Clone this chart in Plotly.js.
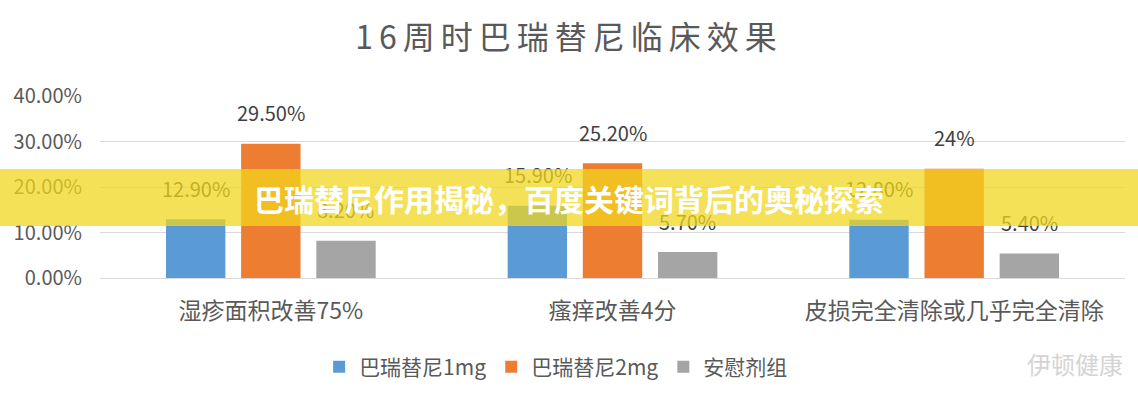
<!DOCTYPE html>
<html>
<head>
<meta charset="utf-8">
<script src="https://cdn.plot.ly/plotly-3.0.1.min.js"></script>
<style>
  html, body { margin: 0; padding: 0; background: #fff; }
  #graph { width: 1138px; height: 400px; }
  .gtitle { letter-spacing: 6px; }
</style>
</head>
<body>
<div id="graph"></div>
<script>
var categories = ['湿疹面积改善75%', '瘙痒改善4分', '皮损完全清除或几乎完全清除'];
var series_names = ['巴瑞替尼1mg', '巴瑞替尼2mg', '安慰剂组'];
var dose1mg = [12.9, 15.9, 12.8];
var dose2mg = [29.5, 25.2, 24];
var placebo = [8.2, 5.7, 5.4];
var labels1mg = ['12.90%', '15.90%', '12.80%'];
var labels2mg = ['29.50%', '25.20%', '24%'];
var labelsPlacebo = ['8.20%', '5.70%', '5.40%'];
var colors = ['#5b9bd5', '#ed7d31', '#a5a5a5'];

var font_family = '"Noto Sans CJK SC", "Noto Sans", sans-serif';

var all_values = [dose1mg, dose2mg, placebo];
var all_labels = [labels1mg, labels2mg, labelsPlacebo];

var plot_data = [];
for (var i = 0; i < 3; i++) {
    plot_data.push({
        type: 'bar',
        name: series_names[i],
        x: categories,
        y: all_values[i],
        marker: { color: colors[i] },
        hoverinfo: 'name+y'
    })
}

// data labels sit well above the bar tops, so they go in as annotations
var label_notes = [];
var bar_shift = [-75, 0, 75];
for (var i = 0; i < 3; i++) {
    for (var j = 0; j < categories.length; j++) {
        label_notes.push({
            text: all_labels[i][j],
            x: categories[j],
            y: all_values[i][j],
            xref: 'x',
            yref: 'y',
            xshift: bar_shift[i],
            yshift: 31,
            xanchor: 'center',
            yanchor: 'middle',
            showarrow: false,
            font: { size: 20, color: '#404040', family: font_family }
        })
    }
}

// the yellow banner goes last so it covers the labels behind it
var banner = {
    text: '<b>巴瑞替尼作用揭秘，百度关键词背后的奥秘探索</b>',
    xref: 'paper',
    yref: 'paper',
    x: 0.4576,
    y: 0.441,
    xanchor: 'center',
    yanchor: 'middle',
    width: 1140,
    height: 57,
    borderpad: 0,
    borderwidth: 0,
    bgcolor: 'rgba(241, 214, 28, 0.74)',
    showarrow: false,
    font: { size: 30, color: '#ffffff', family: font_family }
};

var watermark = {
    text: '伊顿健康',
    xref: 'paper',
    yref: 'paper',
    x: 1.0,
    y: -0.47,
    xanchor: 'right',
    yanchor: 'middle',
    showarrow: false,
    font: { size: 24, color: '#d4d4d4', family: font_family }
};

var layout = {
    width: 1138,
    height: 400,
    paper_bgcolor: '#ffffff',
    plot_bgcolor: '#ffffff',
    font: { family: font_family, color: '#595959' },
    margin: { l: 100, r: 13, t: 96, b: 117 },
    barmode: 'group',
    bargap: 0.34,
    bargroupgap: 0.21,
    title: {
        text: '16周时巴瑞替尼临床效果',
        font: { size: 32, color: '#595959', family: font_family },
        x: 0.5,
        xanchor: 'center',
        y: 0.905,
        yanchor: 'middle'
    },
    xaxis: {
        type: 'category',
        showgrid: false,
        showline: true,
        linecolor: '#d9d9d9',
        ticks: '',
        ticklabelstandoff: 12,
        tickfont: { size: 23, color: '#595959' }
    },
    yaxis: {
        range: [0, 40],
        dtick: 10,
        tickformat: '.2f',
        ticksuffix: '%',
        showgrid: true,
        gridcolor: '#d9d9d9',
        zeroline: false,
        ticks: '',
        ticklabelstandoff: 17,
        tickfont: { size: 20, color: '#595959' }
    },
    showlegend: true,
    legend: {
        orientation: 'h',
        x: 0.445,
        xanchor: 'center',
        y: -0.49,
        yanchor: 'middle',
        font: { size: 21, color: '#595959' },
        itemwidth: 30,
        tracegroupgap: 0
    },
    annotations: label_notes.concat([banner, watermark])
};

Plotly.newPlot('graph', plot_data, layout, { displayModeBar: false, staticPlot: true });
</script>
</body>
</html>
